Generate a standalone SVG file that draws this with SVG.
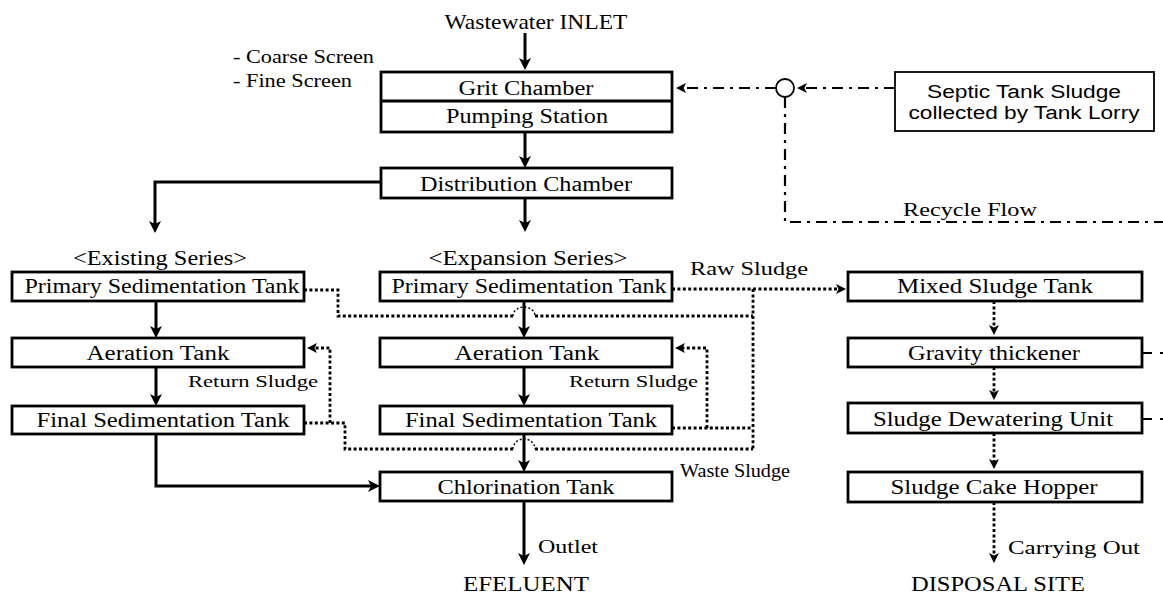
<svg xmlns="http://www.w3.org/2000/svg" width="1163" height="596" viewBox="0 0 1163 596">
<style>
.box{fill:#fff;stroke:#000;stroke-width:2.8}
.t{font-family:"Liberation Serif","Times New Roman",serif;font-size:20px;text-anchor:middle;fill:#000}
.lb{font-family:"Liberation Serif","Times New Roman",serif;font-size:19px;fill:#000}
.big{font-family:"Liberation Serif","Times New Roman",serif;font-size:21px;text-anchor:middle;fill:#000}
.small{font-family:"Liberation Serif","Times New Roman",serif;font-size:16px;fill:#000}
.sans{font-family:"Liberation Sans",Arial,sans-serif;font-size:18px;text-anchor:middle;fill:#000}
.solid{fill:none;stroke:#000;stroke-width:3}
.dot{fill:none;stroke:#000;stroke-width:2.8;stroke-dasharray:3 2.4}
.hop{fill:none;stroke:#000;stroke-width:1.4;stroke-dasharray:2 2}
.dd{fill:none;stroke:#000;stroke-width:2.2;stroke-dasharray:11 6 3 6}
.stub{fill:none;stroke:#000;stroke-width:2.2;stroke-dasharray:11 8 3 20}
</style>
<defs>
<marker id="as" markerUnits="userSpaceOnUse" markerWidth="14" markerHeight="14" refX="8" refY="6" orient="auto" overflow="visible">
<path d="M0,0 L12,6 L0,12 L3,6 z" fill="#000"/>
</marker>
<marker id="ad" markerUnits="userSpaceOnUse" markerWidth="12" markerHeight="12" refX="6" refY="5" orient="auto" overflow="visible">
<path d="M0,0 L10,5 L0,10 L2.5,5 z" fill="#000"/>
</marker>
</defs>

<g id="connectors">
<path class="solid" d="M525,33 V66" marker-end="url(#as)"/>
<path class="solid" d="M525,132 V164" marker-end="url(#as)"/>
<path class="solid" d="M525,198 V228" marker-end="url(#as)"/>
<path class="solid" d="M381,182 H155 V229" marker-end="url(#as)"/>
<path class="solid" d="M156,301 V334" marker-end="url(#as)"/>
<path class="solid" d="M156,367 V402" marker-end="url(#as)"/>
<path class="solid" d="M156,434 V486 H376" marker-end="url(#as)"/>
<path class="solid" d="M524,301 V334" marker-end="url(#as)"/>
<path class="solid" d="M524,367 V402" marker-end="url(#as)"/>
<path class="solid" d="M524,434 V468" marker-end="url(#as)"/>
<path class="solid" d="M524,501 V561" marker-end="url(#as)"/>
<path class="dot" d="M304,290 H338 V316 H513"/>
<path class="hop" d="M513,316 A11,9 0 0 1 535,316"/>
<path class="dot" d="M535,316 H753"/>
<path class="dot" d="M672,289 H842" marker-end="url(#ad)"/>
<path class="dot" d="M753,289 V449"/>
<path class="dot" d="M304,423 H345 V449 H513"/>
<path class="hop" d="M513,449 A11,10 0 0 1 535,449"/>
<path class="dot" d="M535,449 H753"/>
<path class="dot" d="M330,423 V348 H311" marker-end="url(#ad)"/>
<path class="dot" d="M672,428 H753"/>
<path class="dot" d="M707,428 V348 H679" marker-end="url(#ad)"/>
<path class="dot" d="M994,301 V331" marker-end="url(#ad)"/>
<path class="dot" d="M994,367 V396" marker-end="url(#ad)"/>
<path class="dot" d="M994,433 V465" marker-end="url(#ad)"/>
<path class="dot" d="M994,502 V559" marker-end="url(#ad)"/>
<path class="dd" d="M895,88 H801" marker-end="url(#ad)"/>
<path class="dd" d="M776,88 H680" marker-end="url(#ad)"/>
<path class="dd" d="M785,97 V222 H1163"/>
<path class="stub" d="M1141,353 H1163"/>
<path class="stub" d="M1141,419 H1163"/>
</g>

<g id="inlet"><text class="big" x="536" y="29" textLength="183" lengthAdjust="spacingAndGlyphs">Wastewater INLET</text></g>
<g id="screens">
<text class="lb" x="233" y="63" font-size="17" textLength="141" lengthAdjust="spacingAndGlyphs">- Coarse Screen</text>
<text class="lb" x="233" y="87" font-size="17" textLength="119" lengthAdjust="spacingAndGlyphs">- Fine Screen</text>
</g>
<g id="grit-pumping">
<rect class="box" x="381" y="72" width="291" height="60"/>
<line x1="381" y1="101" x2="672" y2="101" stroke="#000" stroke-width="2.8"/>
<text class="t" x="526" y="95" textLength="135" lengthAdjust="spacingAndGlyphs">Grit Chamber</text>
<text class="t" x="527" y="123" textLength="162" lengthAdjust="spacingAndGlyphs">Pumping Station</text>
</g>
<g id="distribution">
<rect class="box" x="381" y="168" width="291" height="30"/>
<text class="t" x="526" y="191" textLength="212" lengthAdjust="spacingAndGlyphs">Distribution Chamber</text>
</g>
<g id="junction"><circle cx="785" cy="88" r="9" fill="#fff" stroke="#000" stroke-width="1.8"/></g>
<g id="septic">
<rect x="895" y="72" width="259" height="59" fill="#fff" stroke="#000" stroke-width="1.8"/>
<text class="sans" x="1024" y="98" textLength="194" lengthAdjust="spacingAndGlyphs">Septic Tank Sludge</text>
<text class="sans" x="1024" y="119" textLength="231" lengthAdjust="spacingAndGlyphs">collected by Tank Lorry</text>
</g>
<g id="recycle-label"><text class="lb" x="903" y="216" font-size="20" textLength="134" lengthAdjust="spacingAndGlyphs">Recycle Flow</text></g>

<g id="existing-label"><text class="t" x="160" y="265" textLength="174" lengthAdjust="spacingAndGlyphs">&lt;Existing Series&gt;</text></g>
<g id="existing-primary">
<rect class="box" x="12" y="272" width="292" height="29"/>
<text class="t" x="162" y="293" textLength="275" lengthAdjust="spacingAndGlyphs">Primary Sedimentation Tank</text>
</g>
<g id="existing-aeration">
<rect class="box" x="12" y="338" width="292" height="29"/>
<text class="t" x="158" y="360" textLength="143" lengthAdjust="spacingAndGlyphs">Aeration Tank</text>
</g>
<g id="existing-return"><text class="small" x="188" y="387" textLength="130" lengthAdjust="spacingAndGlyphs">Return Sludge</text></g>
<g id="existing-final">
<rect class="box" x="12" y="406" width="292" height="28"/>
<text class="t" x="163" y="427" textLength="253" lengthAdjust="spacingAndGlyphs">Final Sedimentation Tank</text>
</g>

<g id="expansion-label"><text class="t" x="528" y="265" textLength="199" lengthAdjust="spacingAndGlyphs">&lt;Expansion Series&gt;</text></g>
<g id="expansion-primary">
<rect class="box" x="380" y="272" width="292" height="29"/>
<text class="t" x="529" y="293" textLength="275" lengthAdjust="spacingAndGlyphs">Primary Sedimentation Tank</text>
</g>
<g id="expansion-aeration">
<rect class="box" x="380" y="338" width="292" height="29"/>
<text class="t" x="527" y="360" textLength="145" lengthAdjust="spacingAndGlyphs">Aeration Tank</text>
</g>
<g id="expansion-return"><text class="small" x="569" y="387" textLength="129" lengthAdjust="spacingAndGlyphs">Return Sludge</text></g>
<g id="expansion-final">
<rect class="box" x="380" y="406" width="292" height="28"/>
<text class="t" x="531" y="427" textLength="252" lengthAdjust="spacingAndGlyphs">Final Sedimentation Tank</text>
</g>
<g id="raw-sludge-label"><text class="lb" x="690" y="275" textLength="118" lengthAdjust="spacingAndGlyphs">Raw Sludge</text></g>
<g id="waste-sludge-label"><text class="lb" x="680" y="477" textLength="110" lengthAdjust="spacingAndGlyphs">Waste Sludge</text></g>

<g id="chlorination">
<rect class="box" x="380" y="472" width="292" height="29"/>
<text class="t" x="526" y="494" textLength="177" lengthAdjust="spacingAndGlyphs">Chlorination Tank</text>
</g>
<g id="outlet-label"><text class="lb" x="538" y="553" font-size="20" textLength="60" lengthAdjust="spacingAndGlyphs">Outlet</text></g>
<g id="effluent"><text class="big" x="526" y="591" textLength="126" lengthAdjust="spacingAndGlyphs">EFELUENT</text></g>

<g id="mixed">
<rect class="box" x="848" y="272" width="294" height="29"/>
<text class="t" x="995" y="293" textLength="196" lengthAdjust="spacingAndGlyphs">Mixed Sludge Tank</text>
</g>
<g id="gravity">
<rect class="box" x="848" y="338" width="294" height="29"/>
<text class="t" x="994" y="360" textLength="172" lengthAdjust="spacingAndGlyphs">Gravity thickener</text>
</g>
<g id="dewatering">
<rect class="box" x="848" y="403" width="294" height="30"/>
<text class="t" x="993" y="426" textLength="240" lengthAdjust="spacingAndGlyphs">Sludge Dewatering Unit</text>
</g>
<g id="hopper">
<rect class="box" x="848" y="472" width="294" height="30"/>
<text class="t" x="994" y="494" textLength="207" lengthAdjust="spacingAndGlyphs">Sludge Cake Hopper</text>
</g>
<g id="carrying-label"><text class="lb" x="1008" y="554" font-size="20" textLength="132" lengthAdjust="spacingAndGlyphs">Carrying Out</text></g>
<g id="disposal"><text class="big" x="998" y="591" textLength="174" lengthAdjust="spacingAndGlyphs">DISPOSAL SITE</text></g>
</svg>
